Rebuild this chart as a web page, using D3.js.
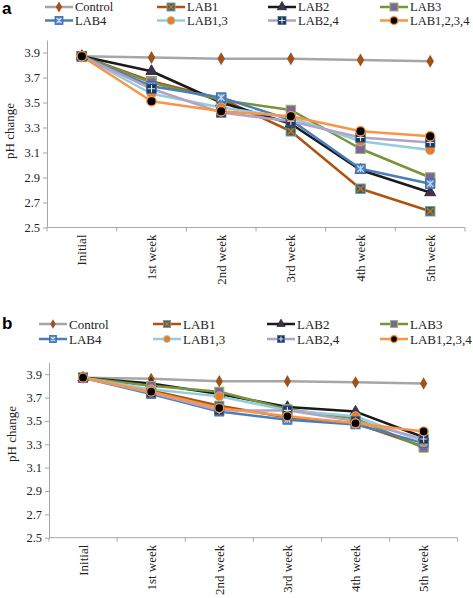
<!DOCTYPE html>
<html><head><meta charset="utf-8">
<script src="https://cdn.jsdelivr.net/npm/d3@7"></script>
<style>body{margin:0;background:#fff}svg{display:block}svg text{font-family:"Liberation Serif","Times New Roman",serif}</style>
</head><body>
<script>
const categories = ["Initial","1st week","2nd week","3rd week","4th week","5th week"];
const seriesNames = ["Control","LAB1","LAB2","LAB3","LAB4","LAB1,3","LAB2,4","LAB1,2,3,4"];
const yTicks = [2.5,2.7,2.9,3.1,3.3,3.5,3.7,3.9];

// Panel a values
const a_Control   = [3.87,3.86,3.85,3.85,3.84,3.83];
const a_LAB1      = [3.87,3.67,3.53,3.27,2.81,2.63];
const a_LAB2      = [3.87,3.75,3.50,3.33,2.96,2.78];
const a_LAB3      = [3.87,3.66,3.52,3.44,3.13,2.90];
const a_LAB4      = [3.87,3.63,3.54,3.36,2.97,2.85];
const a_LAB13     = [3.87,3.57,3.46,3.38,3.19,3.12];
const a_LAB24     = [3.87,3.61,3.42,3.35,3.22,3.18];
const a_LAB1234   = [3.87,3.51,3.43,3.39,3.27,3.23];

// Panel b values
const b_Control   = [3.87,3.86,3.84,3.84,3.83,3.82];
const b_LAB1      = [3.87,3.76,3.63,3.53,3.48,3.28];
const b_LAB2      = [3.87,3.82,3.73,3.62,3.58,3.36];
const b_LAB3      = [3.87,3.80,3.75,3.60,3.52,3.27];
const b_LAB4      = [3.87,3.73,3.58,3.51,3.47,3.31];
const b_LAB13     = [3.87,3.77,3.71,3.59,3.54,3.32];
const b_LAB24     = [3.87,3.74,3.59,3.59,3.50,3.345];
const b_LAB1234   = [3.87,3.75,3.61,3.54,3.48,3.41];

const panelA = [a_Control,a_LAB1,a_LAB2,a_LAB3,a_LAB4,a_LAB13,a_LAB24,a_LAB1234];
const panelB = [b_Control,b_LAB1,b_LAB2,b_LAB3,b_LAB4,b_LAB13,b_LAB24,b_LAB1234];

const lineColors = ["#a6a6a6","#b0520f","#1a1a1a","#77933c","#4a7ebb","#93cddd","#b3a2c7","#f79646"];
const SERIF = "'Liberation Serif','Times New Roman',serif";

const W = 473, H = 598;
const svg = d3.select("body").append("svg").attr("width",W).attr("height",H);

function marker(g, type, s){
  const h = s/2;
  if(type===0){
    g.append("path").attr("d",d3.symbol(d3.symbolDiamond, s*s*0.55)()).attr("fill","#a0521d");
  } else if(type===1){
    g.append("rect").attr("x",-h).attr("y",-h).attr("width",s).attr("height",s).attr("fill","#2b6677").attr("stroke","#8a9a8a").attr("stroke-width",1);
    g.append("path").attr("d",`M${-h+1.5},${-h+1.5}L${h-1.5},${h-1.5}M${-h+1.5},${h-1.5}L${h-1.5},${-h+1.5}`).attr("stroke","#e36c09").attr("stroke-width",1.3);
  } else if(type===2){
    g.append("path").attr("d",d3.symbol(d3.symbolTriangle, s*s*0.6)()).attr("fill","#403152").attr("stroke","#222").attr("stroke-width",0.8);
  } else if(type===3){
    g.append("rect").attr("x",-h).attr("y",-h).attr("width",s).attr("height",s).attr("fill","#8064a2").attr("stroke","#9bbb59").attr("stroke-width",1);
  } else if(type===4){
    g.append("rect").attr("x",-h).attr("y",-h).attr("width",s).attr("height",s).attr("fill","#4f81bd").attr("stroke","#3a6aa5").attr("stroke-width",0.8);
    g.append("path").attr("d",`M${-h+1.5},${-h+1.5}L${h-1.5},${h-1.5}M${-h+1.5},${h-1.5}L${h-1.5},${-h+1.5}M0,${-h+1.5}L0,${h-1.5}`).attr("stroke","#c6d9f1").attr("stroke-width",1.1);
  } else if(type===5){
    g.append("circle").attr("r",h).attr("fill","#f07a1e").attr("stroke","#93cddd").attr("stroke-width",0.8);
  } else if(type===6){
    g.append("rect").attr("x",-h).attr("y",-h).attr("width",s).attr("height",s).attr("fill","#17375e").attr("stroke","#4f6b8f").attr("stroke-width",0.8);
    g.append("path").attr("d",`M0,${-h+1}L0,${h-1}M${-h+1},0L${h-1},0`).attr("stroke","#dfe6f0").attr("stroke-width",1.1);
  } else if(type===7){
    g.append("circle").attr("r",h).attr("fill","#000").attr("stroke","#f79646").attr("stroke-width",1.3);
  }
}

function panel(data, P){
  const g = svg.append("g");
  const x = d3.scaleBand().domain(categories).range([P.x0,P.x1]).paddingInner(0).paddingOuter(0);
  const y = d3.scaleLinear().domain([2.5,4.0]).range([P.yb,P.yt]);

  g.append("text").attr("x",P.labX).attr("y",P.labY).text(P.label)
    .attr("font-family","'Liberation Sans',Arial,sans-serif").style("font-family","'Liberation Sans',Arial,sans-serif")
    .style("font-weight","bold").style("font-size","17px");

  seriesNames.forEach((n,i)=>{
    const col = i%4, row = Math.floor(i/4);
    const lx = P.legX[col], ly = P.legY[row];
    const lg = g.append("g");
    lg.append("line").attr("x1",lx).attr("x2",lx+P.legLen).attr("y1",ly).attr("y2",ly)
      .attr("stroke",lineColors[i]).attr("stroke-width",2.5);
    const mg = lg.append("g").attr("transform",`translate(${lx+P.legLen/2},${ly})`);
    marker(mg,i,P.legMark);
    lg.append("text").attr("x",lx+P.legLen+2).attr("y",ly).attr("dy","0.35em")
      .attr("font-family",SERIF).style("font-size",P.legFont+"px").attr("fill","#222").text(n);
  });

  const ya = d3.axisLeft(y).tickValues(yTicks).tickFormat(d3.format(".1f")).tickSize(4).tickSizeOuter(0);
  const yg = g.append("g").attr("transform",`translate(${P.x0},0)`).call(ya).attr("font-family",SERIF);
  yg.select(".domain").attr("stroke","#a6a6a6");
  yg.selectAll(".tick line").attr("stroke","#a6a6a6");
  yg.selectAll(".tick text").attr("font-family",SERIF).style("font-size","12.5px").attr("fill","#222").attr("x",-7);

  g.append("line").attr("x1",P.x0).attr("x2",P.x1).attr("y1",P.yb).attr("y2",P.yb).attr("stroke","#a6a6a6");
  const bounds = categories.map(c=>x(c)).concat([x(categories[5])+x.bandwidth()]);
  g.selectAll(".xt").data(bounds).enter().append("line")
    .attr("x1",d=>d).attr("x2",d=>d).attr("y1",P.yb).attr("y2",P.yb+4).attr("stroke","#a6a6a6");
  g.selectAll(".xl").data(categories).enter().append("text")
    .attr("transform",d=>`translate(${x(d)+x.bandwidth()/2},${P.yb+7}) rotate(-90)`)
    .attr("text-anchor","end").attr("dy","0.35em").attr("font-family",SERIF).style("font-size","13px").attr("fill","#222").text(d=>d);

  g.append("text").attr("transform",`translate(${P.titX},${P.titY}) rotate(-90)`)
    .attr("text-anchor","middle").attr("font-family",SERIF).style("font-size","13px").attr("fill","#222").text("pH change");

  const line = d3.line().x((d,j)=>x(categories[j])+x.bandwidth()/2).y(d=>y(d));
  data.forEach((s,i)=>{
    g.append("path").datum(s).attr("d",line).attr("fill","none")
      .attr("stroke",lineColors[i]).attr("stroke-width",2.5).attr("stroke-linejoin","round");
  });
  data.forEach((s,i)=>{
    s.forEach((v,j)=>{
      const mg = g.append("g").attr("transform",`translate(${x(categories[j])+x.bandwidth()/2},${y(v)})`);
      marker(mg,i,P.mark);
    });
  });
}

panel(panelA,{x0:47,x1:465,yb:227.5,yt:40,label:"a",labX:2,labY:14,
  legX:[45,157,268,380],legY:[7,20.5],legLen:28,legMark:8,legFont:12.5,mark:9.5,titX:14,titY:131});
panel(panelB,{x0:49,x1:457.7,yb:537.7,yt:362.5,label:"b",labX:2,labY:329,
  legX:[39,153,267,380],legY:[324,339],legLen:28,legMark:7,legFont:13,mark:9,titX:16,titY:434});
</script>
</body></html>
